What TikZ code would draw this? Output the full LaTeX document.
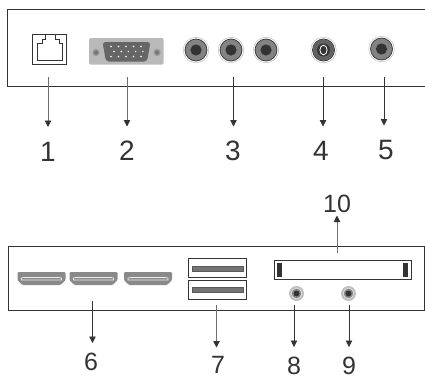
\documentclass[tikz,border=0pt]{standalone}
\usepackage{fontspec}
\setmainfont{Liberation Sans}
\usetikzlibrary{arrows.meta}
\definecolor{ink}{HTML}{333333}
\definecolor{port}{HTML}{8A8A8A}
\tikzset{
  panel/.style={draw=ink,line width=1pt},
  arr/.style={draw=ink,line width=0.8pt,-{Triangle[length=6.5pt,width=6.5pt]}},
  arrg/.style={draw=ink!70,line width=0.9pt,-{Triangle[length=6.5pt,width=6.5pt,color=ink]}},
  bigl/.style={inner sep=0pt,text=ink,font=\fontsize{28}{28}\selectfont,text height=20pt,text depth=0pt},
  smal/.style={inner sep=0pt,text=ink,font=\fontsize{25}{25}\selectfont,text height=17pt,text depth=0pt},
  box/.style={draw=ink,line width=1pt,fill=white},
  jack/.pic={
    \draw[gray!60,fill=white,line width=0.4pt] (0,0) circle (12.8);
    \draw[ink,fill=port!95!black,line width=0.7pt] (0,0) circle (11);
    \fill[ink] (0,0) circle (5.6);
  },
  smalljack/.pic={
    \fill[gray!50] (0,0) circle (7.5);
    \draw[white!90!gray,line width=0.4pt] (0,0) circle (5.3);
    \fill[port] (0,0) circle (4.8);
    \fill[ink] (0,0) circle (3);
  },
  hdmi/.pic={
    \fill[port,rounded corners=1pt] (0,0) -- (48,0) -- (48,8) -- (43,13) -- (5,13) -- (0,8) -- cycle;
    \draw[white!85!gray,line width=0.6pt] (4,6) -- (4,8) -- (44,8) -- (44,6) -- (42,5.5) -- (6,5.5) -- cycle;
  },
}
\begin{document}
\begin{tikzpicture}[x=1pt,y=-1pt]
\useasboundingbox (0,0) rectangle (425,375);
% top panel
\draw[panel] (425,9) -- (7.5,9) -- (7.5,86) -- (425,86);
% RJ port
\draw[box,line width=0.9pt] (32.5,34.5) rectangle (66,64);
\draw[ink,line width=0.9pt] (37,60) -- (37,43.5) -- (42,43.5) -- (42,39.5) -- (45,39.5) -- (45,34.5) -- (55,34.5) -- (55,39.5) -- (59.5,39.5) -- (59.5,43.5) -- (62,43.5) -- (62,60) -- cycle;
% VGA port
\fill[gray!55,rounded corners=1.5pt] (89,38) rectangle (163.5,64.5);
\fill[gray!80!black,rounded corners=3pt] (102.5,42) -- (150.5,42) -- (147,61.5) -- (106,61.5) -- cycle;
\foreach \p/\q in {96/52.5,157/52.5}{
  \fill[gray!80] (\p,\q) circle (3.6);
  \fill[black!55] (\p,\q) circle (2);
}
\foreach \i in {0,...,4}{
  \fill[white] (111+\i*7.5,46.5) circle (0.8);
  \fill[white] (114+\i*7.2,51.5) circle (0.8);
  \fill[white] (111+\i*7.5,56.5) circle (0.8);
}
% jacks
\path (196,50) pic {jack};
\path (231,50) pic {jack};
\path (266,50) pic {jack};
\path (323.5,50) pic {jack};
\fill[black!62] (323.5,50) circle (10.5);
\fill[ink] (323.5,50) circle (6.5);
\draw[white,line width=0.8pt] (323.5,50) ellipse (3.6 and 4.8);
\path (381.5,49) pic {jack};
% bottom panel
\draw[panel] (8.5,246.5) rectangle (424,310.5);
\path (17.5,272) pic {hdmi};
\path (69.5,272) pic {hdmi};
\path (124,272) pic {hdmi};
% USB
\draw[box] (188.5,258.5) rectangle (246,277.5);
\draw[box] (188.5,280.5) rectangle (246,299);
\draw[gray!50!ink,fill=gray!90!black,line width=0.5pt] (192,266) rectangle (243,271);
\draw[gray!50!ink,fill=gray!90!black,line width=0.5pt] (192,287) rectangle (243,292);
% card slot
\draw[box] (274,260) rectangle (411,279);
\fill[ink] (277,262.5) rectangle (282,276.5);
\fill[ink] (403,262.5) rectangle (408,276.5);
\path (296.5,293.5) pic {smalljack};
\path (348.5,293.5) pic {smalljack};
% labels
\node[bigl,outer ysep=14pt] (l1) at (48,151) {1};
\node[bigl,outer ysep=14pt] (l2) at (127,150.5) {2};
\node[bigl,outer ysep=14pt] (l3) at (233,150.5) {3};
\node[bigl,outer ysep=14pt] (l4) at (321,150.5) {4};
\node[bigl,outer ysep=14pt] (l5) at (386,149.5) {5};
\node[smal,outer ysep=10.5pt] (l6) at (91,362) {6};
\node[smal,outer ysep=9pt] (l7) at (218,365) {7};
\node[smal,outer ysep=10pt] (l8) at (294,365.5) {8};
\node[smal,outer ysep=10pt] (l9) at (349,365.5) {9};
\node[smal,outer ysep=3pt] (l10) at (337,204) {10};
% connector starts
\coordinate (s1) at (48,77);
\coordinate (s2) at (127,77);
\coordinate (s3) at (233.5,76.5);
\coordinate (s4) at (323,76.5);
\coordinate (s5) at (384,76.5);
\coordinate (s6) at (92.5,301);
\coordinate (s7) at (216.5,305);
\coordinate (s8) at (294,305);
\coordinate (s9) at (349,305);
\coordinate (s10) at (337,253);
% connectors
\draw[arrg] (s1) -- (s1 |- l1.north);
\draw[arrg] (s2) -- (s2 |- l2.north);
\draw[arr] (s3) -- (s3 |- l3.north);
\draw[arr] (s4) -- (s4 |- l4.north);
\draw[arr] (s5) -- (s5 |- l5.north);
\draw[arr] (s6) -- (s6 |- l6.north);
\draw[arrg] (s7) -- (s7 |- l7.north);
\draw[arr] (s8) -- (s8 |- l8.north);
\draw[arr] (s9) -- (s9 |- l9.north);
\draw[arrg] (s10) -- (s10 |- l10.south);
\end{tikzpicture}
\end{document}
